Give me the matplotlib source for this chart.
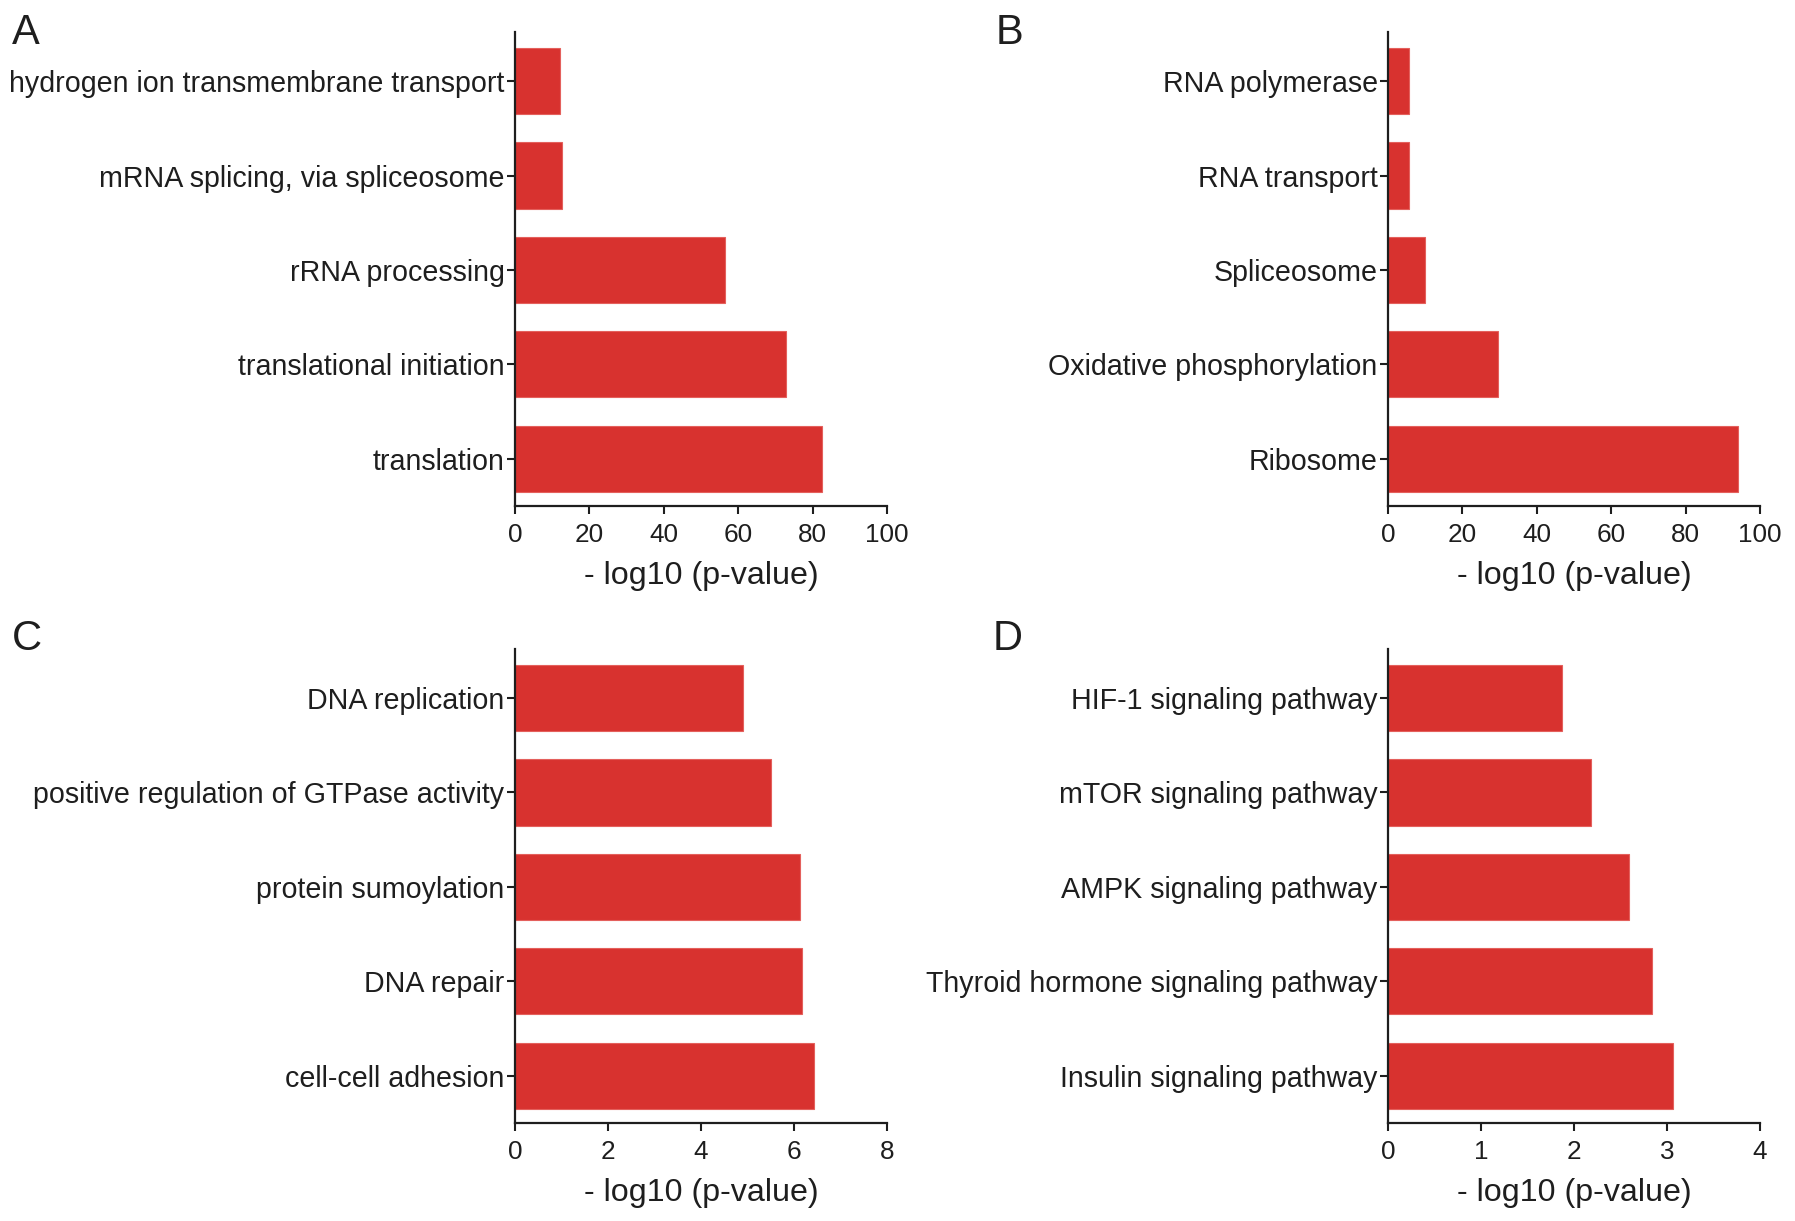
import matplotlib
matplotlib.use("Agg")
import matplotlib.pyplot as plt

plt.rcParams['font.family'] = ['Liberation Sans', 'DejaVu Sans']

# terms listed top to bottom as in the figure
terms_a = ["hydrogen ion transmembrane transport", "mRNA splicing, via spliceosome",
           "rRNA processing", "translational initiation", "translation"]
vals_a = [12.0, 12.7, 56.5, 72.8, 82.5]

terms_b = ["RNA polymerase", "RNA transport", "Spliceosome",
           "Oxidative phosphorylation", "Ribosome"]
vals_b = [5.6, 5.7, 9.9, 29.6, 94.1]

terms_c = ["DNA replication", "positive regulation of GTPase activity",
           "protein sumoylation", "DNA repair", "cell-cell adhesion"]
vals_c = [4.91, 5.51, 6.12, 6.17, 6.44]

terms_d = ["HIF-1 signaling pathway", "mTOR signaling pathway", "AMPK signaling pathway",
           "Thyroid hormone signaling pathway", "Insulin signaling pathway"]
vals_d = [1.87, 2.18, 2.59, 2.84, 3.06]

xmax = [100, 100, 8, 4]
xstep = [20, 20, 2, 1]
letters = ["A", "B", "C", "D"]

bar_color = "#d8322f"
txt = "#1e1e1e"

fig = plt.figure(figsize=(17.95, 12.21), dpi=100)

# axes boxes in figure fractions (left, bottom, width, height)
boxes = [
    (0.2869, 0.5856, 0.2072, 0.3882),
    (0.7733, 0.5856, 0.2072, 0.3882),
    (0.2869, 0.0803, 0.2072, 0.3882),
    (0.7733, 0.0803, 0.2072, 0.3882),
]
letter_pos = [(12, 44), (996, 44), (12, 650), (993, 650)]

data = [(terms_a, vals_a), (terms_b, vals_b), (terms_c, vals_c), (terms_d, vals_d)]

for i, (terms, vals) in enumerate(data):
    ax = fig.add_axes(boxes[i])
    ypos = list(range(len(terms)))
    ax.barh(ypos, vals, height=0.7, color=bar_color, edgecolor="#e4605c", linewidth=0.8)
    ax.set_yticks(ypos)
    ax.set_yticklabels(terms)
    ax.set_ylim(len(terms) - 0.5, -0.52)
    ax.set_xlim(0, xmax[i])
    ax.set_xticks([k * xstep[i] for k in range(int(xmax[i] / xstep[i]) + 1)])
    for s in ["top", "right"]:
        ax.spines[s].set_visible(False)
    for s in ["left", "bottom"]:
        ax.spines[s].set_linewidth(1.6)
        ax.spines[s].set_color(txt)
    ax.tick_params(axis="y", length=6, width=1.5, pad=1.5, labelsize=20.6, colors=txt)
    ax.tick_params(axis="x", length=6, width=1.5, pad=6, labelsize=18.8, colors=txt)
    ax.set_xlabel("- log10 (p-value)", fontsize=23.2, color=txt, labelpad=10)
    lx, ly = letter_pos[i]
    fig.text(lx / 1795, 1 - ly / 1221, letters[i], fontsize=30, color=txt,
             ha="left", va="baseline")

fig.savefig("out.png", dpi=100)
